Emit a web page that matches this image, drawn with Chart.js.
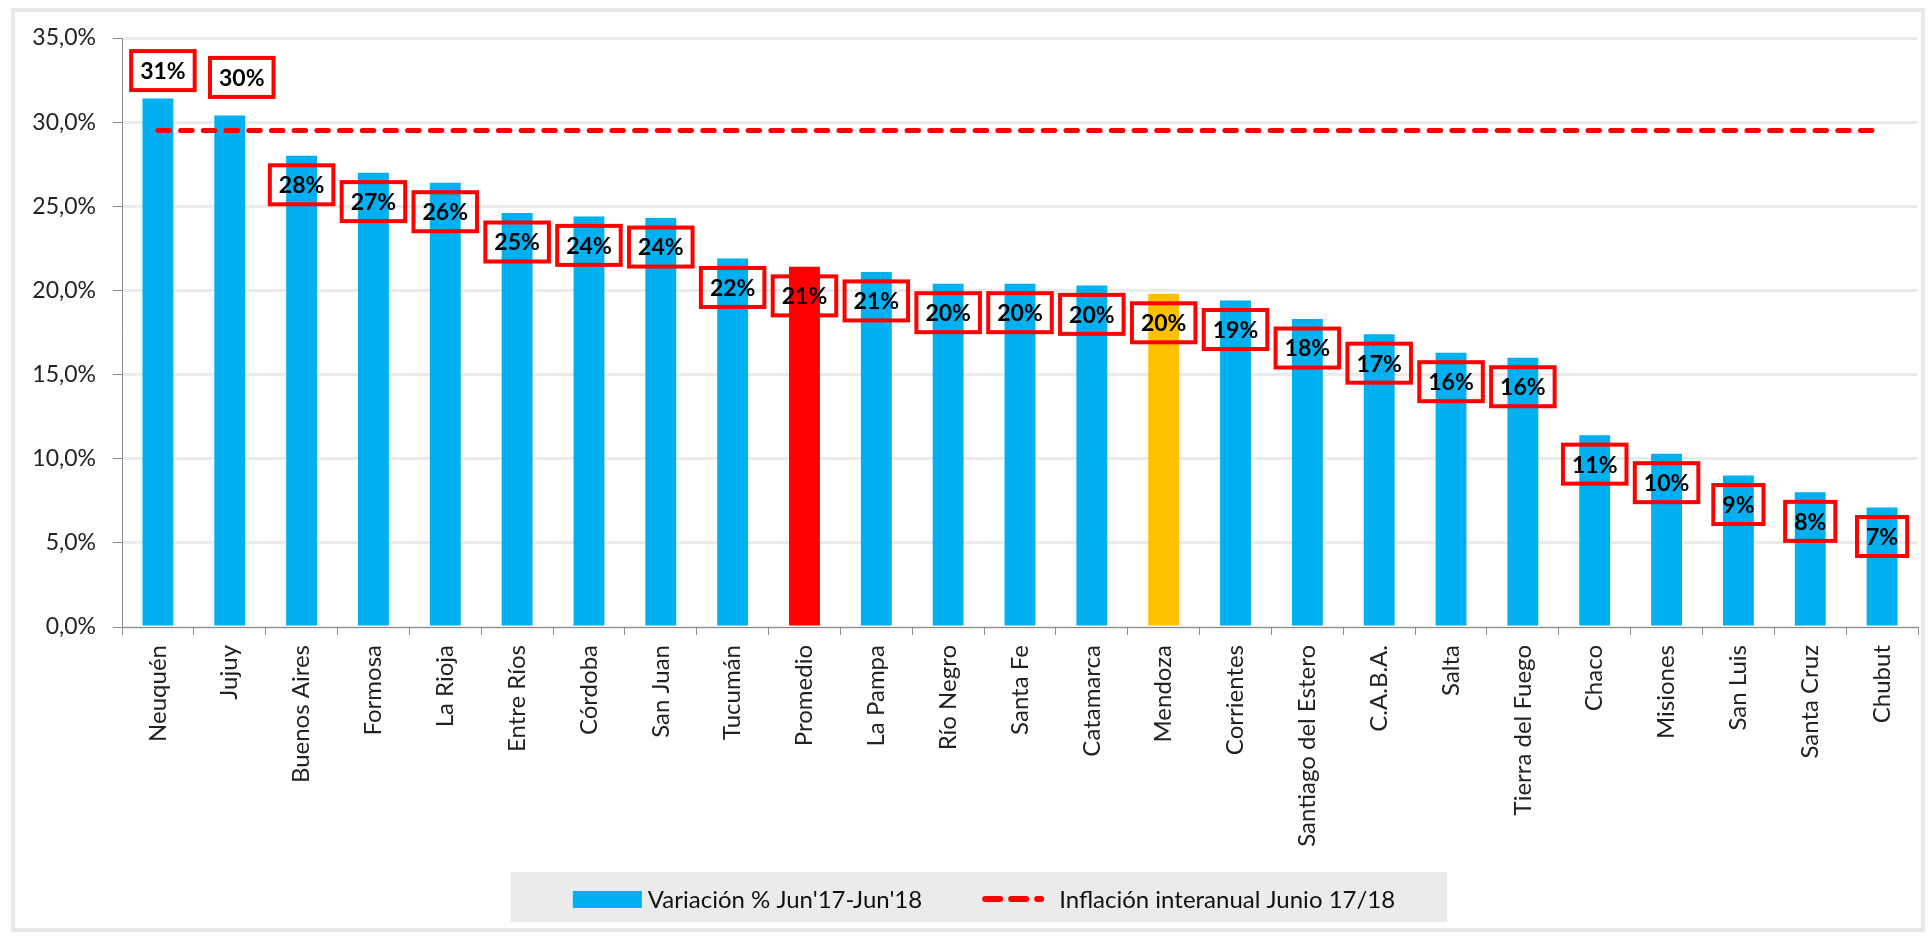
<!DOCTYPE html>
<html>
<head>
<meta charset="utf-8">
<script src="https://cdn.jsdelivr.net/npm/chart.js@4.4.1/dist/chart.umd.min.js"></script>
<style>
  html, body { margin: 0; padding: 0; background: #fff; }
  #wrap { width: 1928px; height: 936px; }
</style>
</head>
<body>
<div id="wrap"><canvas id="variacionChart" width="1928" height="936"></canvas></div>
<script>
// Datos
var provincias = ['Neuquén', 'Jujuy', 'Buenos Aires', 'Formosa', 'La Rioja', 'Entre Ríos', 'Córdoba', 'San Juan',
  'Tucumán', 'Promedio', 'La Pampa', 'Río Negro', 'Santa Fe', 'Catamarca', 'Mendoza', 'Corrientes',
  'Santiago del Estero', 'C.A.B.A.', 'Salta', 'Tierra del Fuego', 'Chaco', 'Misiones', 'San Luis', 'Santa Cruz', 'Chubut'];
var variacion = [31.4, 30.4, 28.0, 27.0, 26.4, 24.6, 24.4, 24.3,
  21.9, 21.4, 21.1, 20.4, 20.4, 20.3, 19.8, 19.4,
  18.3, 17.4, 16.3, 16.0, 11.4, 10.3, 9.0, 8.0, 7.1];
var inflacion = [29.5, 29.5, 29.5, 29.5, 29.5, 29.5, 29.5, 29.5, 29.5, 29.5, 29.5, 29.5, 29.5,
  29.5, 29.5, 29.5, 29.5, 29.5, 29.5, 29.5, 29.5, 29.5, 29.5, 29.5, 29.5];
var yMax = 35;
var yPaso = 5;

var AZUL = '#00b0f0';
var ROJO = '#ff0000';
var AMARILLO = '#ffc000';

// desplazamiento [x, y] de las etiquetas respecto del tope de la barra
var ajusteEtiqueta = { 0: [5, -28], 1: [12, -38] };

var colores = provincias.map(function (p) {
  if (p === 'Promedio') return ROJO;
  if (p === 'Mendoza') return AMARILLO;
  return AZUL;
});

var marcoPlugin = {
  id: 'marco',
  beforeDraw: function (chart) {
    var ctx = chart.ctx;
    ctx.save();
    ctx.strokeStyle = '#e8e8e8';
    ctx.lineWidth = 4;
    ctx.strokeRect(13, 10, 1910, 920);
    ctx.restore();
  }
};

var etiquetasPlugin = {
  id: 'etiquetas',
  afterDatasetsDraw: function (chart) {
    var ctx = chart.ctx;
    var meta = chart.getDatasetMeta(0);
    ctx.save();
    ctx.font = 'bold 23px Lato';
    ctx.textAlign = 'center';
    ctx.textBaseline = 'middle';
    meta.data.forEach(function (bar, i) {
      var txt = Math.round(variacion[i]) + '%';
      var aj = ajusteEtiqueta[i] || [0, 29];
      var cx = bar.x + aj[0];
      var cy = bar.y + aj[1];
      var w = ctx.measureText(txt).width + 22;
      var h = 43;
      ctx.lineWidth = 4;
      ctx.strokeStyle = ROJO;
      ctx.strokeRect(cx - w / 2 + 2, cy - h / 2 + 2, w - 4, h - 4);
      ctx.fillStyle = '#000';
      ctx.fillText(txt, cx, cy + 1);
    });
    ctx.restore();
  }
};

var leyendaPlugin = {
  id: 'leyenda',
  afterDraw: function (chart) {
    var ctx = chart.ctx;
    var ds = chart.data.datasets;
    ctx.save();
    ctx.font = '24px Lato';
    var w1 = ctx.measureText(ds[0].label).width;
    var w2 = ctx.measureText(ds[1].label).width;
    var total = 69 + 6 + w1 + 60 + 62 + 15 + w2;
    var x = 984 - total / 2;
    var y = 899;
    ctx.fillStyle = '#ebebeb';
    ctx.fillRect(x - 62, 872, total + 114, 50);

    ctx.fillStyle = AZUL;
    ctx.fillRect(x, y - 8, 69, 17);
    ctx.fillStyle = '#111';
    ctx.textBaseline = 'middle';
    ctx.fillText(ds[0].label, x + 75, y + 1);

    var lx = x + 75 + w1 + 60;
    ctx.strokeStyle = ROJO;
    ctx.lineWidth = 6;
    ctx.lineCap = 'round';
    ctx.setLineDash([15, 11]);
    ctx.beginPath();
    ctx.moveTo(lx + 3, y);
    ctx.lineTo(lx + 59, y);
    ctx.stroke();
    ctx.setLineDash([]);
    ctx.fillText(ds[1].label, lx + 77, y + 1);
    ctx.restore();
  }
};

var ctx = document.getElementById('variacionChart').getContext('2d');
var variacionChart = new Chart(ctx, {
  type: 'bar',
  data: {
    labels: provincias,
    datasets: [
      {
        type: 'bar',
        label: "Variación % Jun'17-Jun'18",
        data: variacion,
        backgroundColor: colores,
        borderWidth: 0,
        categoryPercentage: 1,
        barPercentage: 0.43,
        order: 2
      },
      {
        type: 'line',
        label: 'Inflación interanual Junio 17/18',
        data: inflacion,
        borderColor: ROJO,
        borderWidth: 5,
        borderDash: [11.5, 11.2],
        borderCapStyle: 'round',
        pointRadius: 0,
        fill: false,
        order: 1
      }
    ]
  },
  options: {
    responsive: false,
    animation: false,
    devicePixelRatio: 1,
    layout: { padding: { top: 38, right: 10, left: 0, bottom: 0 } },
    scales: {
      y: {
        min: 0,
        max: yMax,
        afterFit: function (scale) { scale.width = 122; },
        ticks: {
          stepSize: yPaso,
          padding: 17,
          color: '#222',
          font: { family: 'Lato', size: 23 },
          callback: function (v) { return v.toFixed(1).replace('.', ',') + '%'; }
        },
        grid: {
          color: '#ebebeb',
          lineWidth: 3,
          tickColor: '#8c8c8c',
          tickWidth: 1,
          tickLength: 9
        },
        border: { color: '#8c8c8c', width: 1 }
      },
      x: {
        afterFit: function (scale) { scale.height = 309; },
        ticks: {
          autoSkip: false,
          minRotation: 90,
          maxRotation: 90,
          padding: 10,
          color: '#222',
          font: { family: 'Lato', size: 24 }
        },
        grid: {
          offset: true,
          drawOnChartArea: false,
          tickColor: '#8c8c8c',
          tickLength: 8
        },
        border: { color: '#8c8c8c', width: 1 }
      }
    },
    plugins: {
      legend: { display: false },
      tooltip: { enabled: false }
    }
  },
  plugins: [marcoPlugin, etiquetasPlugin, leyendaPlugin]
});
</script>
</body>
</html>
